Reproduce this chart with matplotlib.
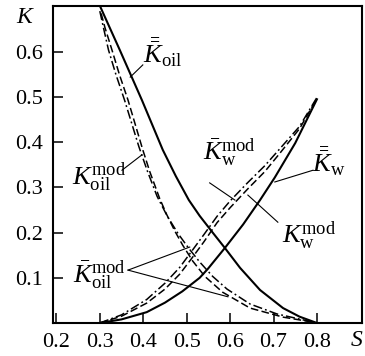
import matplotlib
matplotlib.use("Agg")
import matplotlib.pyplot as plt

# values
s_oil = [0.300, 0.346, 0.397, 0.445, 0.475, 0.505, 0.530, 0.560, 0.588, 0.623, 0.669, 0.722, 0.760, 0.800]
k_oil = [0.702, 0.604, 0.493, 0.383, 0.325, 0.272, 0.237, 0.200, 0.166, 0.122, 0.073, 0.033, 0.014, 0.000]

s_oil_mod = [0.303, 0.312, 0.328, 0.345, 0.365, 0.399, 0.415, 0.438, 0.454, 0.473, 0.491, 0.514, 0.542, 0.583, 0.646, 0.722, 0.790]
k_oil_mod = [0.685, 0.653, 0.604, 0.550, 0.493, 0.383, 0.335, 0.275, 0.240, 0.203, 0.172, 0.137, 0.103, 0.068, 0.033, 0.013, 0.002]

s_oil_bar = [0.300, 0.308, 0.320, 0.337, 0.357, 0.390, 0.410, 0.432, 0.455, 0.480, 0.505, 0.530, 0.560, 0.593, 0.646, 0.708, 0.754, 0.795]
k_oil_bar = [0.690, 0.655, 0.604, 0.550, 0.493, 0.390, 0.335, 0.280, 0.237, 0.198, 0.165, 0.135, 0.103, 0.075, 0.042, 0.020, 0.010, 0.001]

s_w = [0.300, 0.350, 0.408, 0.450, 0.490, 0.530, 0.549, 0.588, 0.630, 0.669, 0.703, 0.750, 0.800]
k_w = [0.000, 0.008, 0.024, 0.045, 0.070, 0.100, 0.120, 0.166, 0.218, 0.272, 0.322, 0.398, 0.495]

s_w_mod = [0.300, 0.350, 0.408, 0.450, 0.484, 0.514, 0.540, 0.570, 0.600, 0.640, 0.680, 0.715, 0.760, 0.800]
k_w_mod = [0.000, 0.015, 0.044, 0.075, 0.108, 0.146, 0.180, 0.222, 0.255, 0.296, 0.335, 0.376, 0.430, 0.497]

s_w_bar = [0.300, 0.350, 0.408, 0.450, 0.484, 0.514, 0.540, 0.570, 0.600, 0.640, 0.680, 0.715, 0.760, 0.800]
k_w_bar = [0.000, 0.018, 0.052, 0.088, 0.123, 0.162, 0.196, 0.236, 0.270, 0.310, 0.348, 0.386, 0.435, 0.499]

x_ticks = [0.2, 0.3, 0.4, 0.5, 0.6, 0.7, 0.8]
y_ticks = [0.1, 0.2, 0.3, 0.4, 0.5, 0.6]

plt.rcParams['font.family'] = 'Liberation Serif'
plt.rcParams['mathtext.fontset'] = 'custom'
plt.rcParams['mathtext.rm'] = 'Liberation Serif'
plt.rcParams['mathtext.it'] = 'Liberation Serif:italic'


def main():
    fig = plt.figure(figsize=(3.65, 3.56), dpi=100)
    ax = fig.add_axes([0.145, 0.0927, 0.847, 0.890])

    dash = (0, (5, 2.2))
    dashdot = (0, (6, 2, 1.2, 2))

    ax.plot(s_oil, k_oil, color='black', lw=1.5)
    ax.plot(s_oil_mod, k_oil_mod, color='black', lw=1.1, ls=dash)
    ax.plot(s_oil_bar, k_oil_bar, color='black', lw=1.1, ls=dashdot)
    ax.plot(s_w, k_w, color='black', lw=1.5)
    ax.plot(s_w_mod, k_w_mod, color='black', lw=1.1, ls=dash)
    ax.plot(s_w_bar, k_w_bar, color='black', lw=1.1, ls=dashdot)

    # leader lines
    leaders = [
        [(0.399, 0.571), (0.370, 0.544)],
        [(0.351, 0.338), (0.397, 0.372)],
        [(0.365, 0.117), (0.507, 0.168)],
        [(0.365, 0.117), (0.595, 0.058)],
        [(0.553, 0.310), (0.611, 0.272)],
        [(0.710, 0.223), (0.641, 0.283)],
        [(0.791, 0.338), (0.703, 0.312)],
    ]
    for (x0, y0), (x1, y1) in leaders:
        ax.plot([x0, x1], [y0, y1], color='black', lw=0.8)

    fs = 19
    ax.text(0.400, 0.575, r'$\bar{\bar{K}}_{\mathrm{oil}}$', fontsize=fs, va='baseline')
    ax.text(0.236, 0.305, r'$K_{\mathrm{oil}}^{\mathrm{mod}}$', fontsize=fs, va='baseline')
    ax.text(0.238, 0.088, r'$\bar{K}_{\mathrm{oil}}^{\mathrm{mod}}$', fontsize=fs, va='baseline')
    ax.text(0.537, 0.360, r'$\bar{K}_{\mathrm{w}}^{\mathrm{mod}}$', fontsize=fs, va='baseline')
    ax.text(0.719, 0.177, r'$K_{\mathrm{w}}^{\mathrm{mod}}$', fontsize=fs, va='baseline')
    ax.text(0.788, 0.334, r'$\bar{\bar{K}}_{\mathrm{w}}$', fontsize=fs, va='baseline')

    ax.text(-0.094, 0.965, 'K', transform=ax.transAxes, fontsize=17,
            style='italic', ha='center', va='center')
    ax.text(0.984, -0.054, 'S', transform=ax.transAxes, fontsize=17,
            style='italic', ha='center', va='center')

    ax.set_xlim(0.192, 0.904)
    ax.set_ylim(0, 0.701)
    ax.set_xticks(x_ticks)
    ax.set_xticklabels([f'{v:.1f}' for v in x_ticks])
    ax.set_yticks(y_ticks)
    ax.set_yticklabels([f'{v:.1f}' for v in y_ticks])
    ax.tick_params(direction='in', length=7, width=1.1, labelsize=16, pad=7)
    for sp in ax.spines.values():
        sp.set_linewidth(1.5)

    fig.savefig('out.png', dpi=100)
    plt.close(fig)


if __name__ == "__main__":
    main()
